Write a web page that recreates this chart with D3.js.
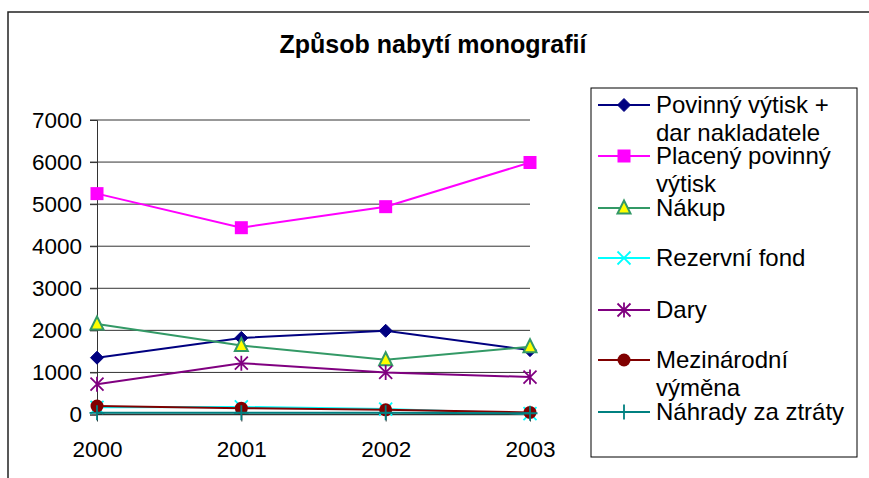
<!DOCTYPE html>
<html><head><meta charset="utf-8">
<script src="https://cdn.jsdelivr.net/npm/d3@7"></script>
<style>body{margin:0;background:#fff}svg{display:block;font-family:Arial,"Liberation Sans",sans-serif}</style>
</head><body>
<svg id="c" width="869" height="478"></svg>
<script>
const title = "Způsob nabytí monografií";
const years = ["2000","2001","2002","2003"];
const yTicks = [0,1000,2000,3000,4000,5000,6000,7000];
const seriesNames = [["Povinný výtisk +","dar nakladatele"],["Placený povinný","výtisk"],["Nákup"],["Rezervní fond"],["Dary"],["Mezinárodní","výměna"],["Náhrady za ztráty"]];
const povinny = [1350, 1820, 1990, 1530];
const placeny = [5250, 4440, 4940, 5990];
const nakup = [2150, 1640, 1300, 1610];
const rezervni = [170, 180, 130, 20];
const dary = [720, 1220, 1000, 890];
const mezinarodni = [200, 150, 110, 50];
const nahrady = [40, 40, 40, 30];
const colors = ["#000080","#FF00FF","#339966","#00FFFF","#800080","#800000","#008080"];
const markers = ["diamond","square","triangle","x","asterisk","circle","plus"];
const allValues = [povinny, placeny, nakup, rezervni, dary, mezinarodni, nahrady];

const svg = d3.select("#c");
const x = d3.scalePoint().domain(years).range([97, 530]);
const y = d3.scaleLinear().domain([0, 7000]).range([414.5, 120]);

// outer border
svg.append("path").attr("d","M8,478V12H869").attr("fill","none").attr("stroke","#222").attr("stroke-width",1.5);

svg.append("text").attr("x",433).attr("y",53).attr("text-anchor","middle")
  .attr("font-size",25).attr("font-weight","bold").text(title);

// gridlines
svg.append("g").selectAll("line").data(yTicks.filter(d=>d>0)).join("line")
  .attr("x1",90).attr("x2",530).attr("y1",d=>y(d)).attr("y2",d=>y(d))
  .attr("stroke","#333").attr("stroke-width",1);

// y axis
const ya = svg.append("g").attr("transform","translate(97,0)")
  .call(d3.axisLeft(y).tickValues(yTicks).tickSize(7).tickPadding(8).tickFormat(d3.format("d")));
ya.select(".domain").attr("stroke","#333").attr("stroke-width",1);
ya.selectAll(".tick line").attr("stroke","#333");
ya.selectAll("text").attr("font-size",22.5).attr("fill","#000").attr("font-family","Arial,'Liberation Sans',sans-serif");

// x axis
const xa = svg.append("g").attr("transform",`translate(0,${y(0)})`)
  .call(d3.axisBottom(x).tickSize(7).tickPadding(20).tickSizeOuter(0));
xa.select(".domain").attr("d",`M97,0H530`).attr("stroke","#333").attr("stroke-width",1.5);
xa.selectAll(".tick line").attr("stroke","#333");
xa.selectAll("text").attr("font-size",22.5).attr("fill","#000").attr("font-family","Arial,'Liberation Sans',sans-serif");

function drawMarker(g, type, color, cx, cy) {
  const s = 6.5;
  if (type==="diamond") g.append("path").attr("d",`M${cx},${cy-s}L${cx+s},${cy}L${cx},${cy+s}L${cx-s},${cy}Z`).attr("fill",color).attr("stroke",color);
  else if (type==="square") g.append("rect").attr("x",cx-s).attr("y",cy-s).attr("width",2*s).attr("height",2*s).attr("fill",color);
  else if (type==="triangle") g.append("path").attr("d",`M${cx},${cy-s-1}L${cx+s},${cy+s-1}L${cx-s},${cy+s-1}Z`).attr("fill","#FFFF00").attr("stroke",color).attr("stroke-width",2);
  else if (type==="x") g.append("path").attr("d",`M${cx-s},${cy-s}L${cx+s},${cy+s}M${cx+s},${cy-s}L${cx-s},${cy+s}`).attr("stroke",color).attr("stroke-width",1.8);
  else if (type==="asterisk") g.append("path").attr("d",`M${cx-s},${cy-s}L${cx+s},${cy+s}M${cx+s},${cy-s}L${cx-s},${cy+s}M${cx},${cy-s-1}L${cx},${cy+s+1}`).attr("stroke",color).attr("stroke-width",1.8);
  else if (type==="circle") g.append("circle").attr("cx",cx).attr("cy",cy).attr("r",s).attr("fill",color);
  else if (type==="plus") g.append("path").attr("d",`M${cx-s-1},${cy}L${cx+s+1},${cy}M${cx},${cy-s-1}L${cx},${cy+s+1}`).attr("stroke",color).attr("stroke-width",1.8);
}

const line = d3.line().x((d,i)=>x(years[i])).y(d=>y(d));
allValues.forEach((vals, si) => {
  const g = svg.append("g");
  g.append("path").datum(vals).attr("d", line).attr("fill","none").attr("stroke",colors[si]).attr("stroke-width",2);
  vals.forEach((v,i)=>drawMarker(g, markers[si], colors[si], x(years[i]), y(v)));
});

// legend
svg.append("rect").attr("x",591).attr("y",88).attr("width",266).attr("height",369)
  .attr("fill","#fff").attr("stroke","#000").attr("stroke-width",1);
const legY = [105,156,208,258,310,360,412];
seriesNames.forEach((lines, si) => {
  const g = svg.append("g");
  const cy = legY[si];
  g.append("line").attr("x1",598).attr("x2",650).attr("y1",cy).attr("y2",cy).attr("stroke",colors[si]).attr("stroke-width",2);
  drawMarker(g, markers[si], colors[si], 624, cy);
  const t = g.append("text").attr("x",656).attr("y",cy+8).attr("font-size",24);
  lines.forEach((l,li)=>t.append("tspan").attr("x",656).attr("dy",li===0?0:28).text(l));
});
</script>
</body></html>
